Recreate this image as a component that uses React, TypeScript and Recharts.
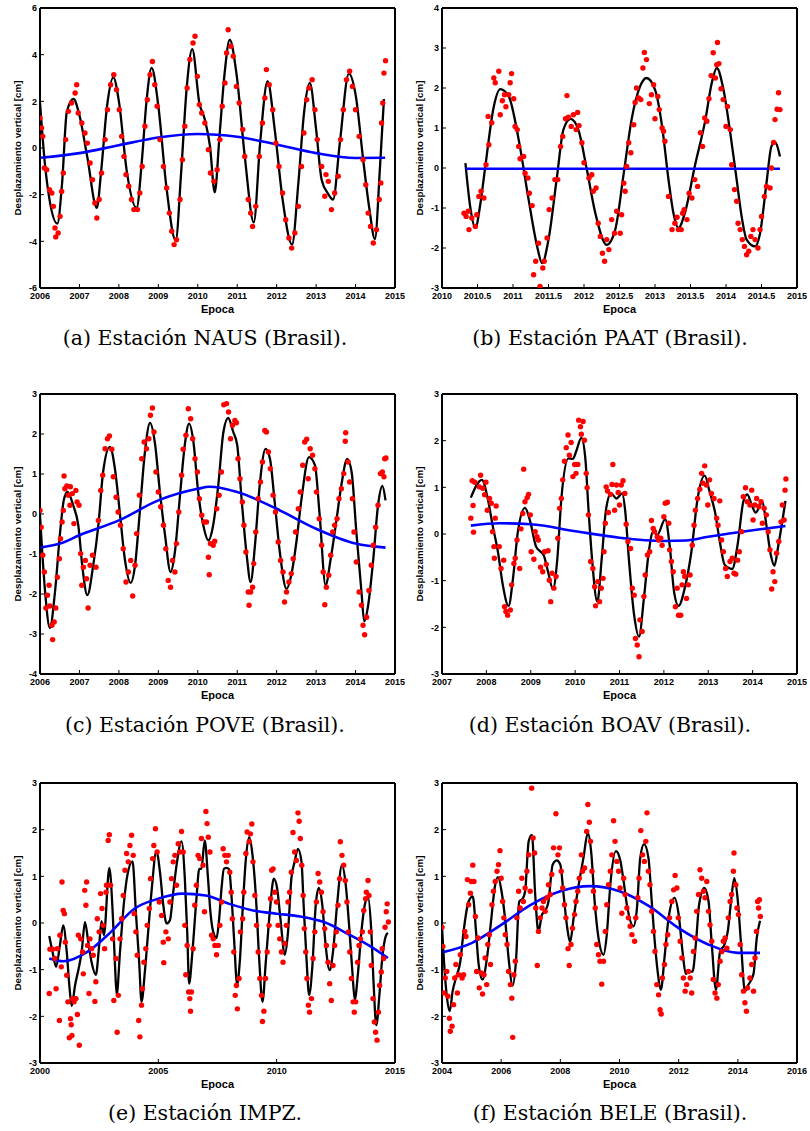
import React from "react";
import { ComposedChart, XAxis, YAxis, Scatter, Line } from "recharts";

type Pt = [number, number];

// ---- (a) NAUS ----
const nausTicksX = [2006, 2007, 2008, 2009, 2010, 2011, 2012, 2013, 2014, 2015];
const nausTicksY = [-6, -4, -2, 0, 2, 4, 6];
const nausObs: Pt[] = [
  [2006.0, 1.29], [2006.04, 0.86], [2006.07, 0.5], [2006.11, -0.86], [2006.17, -0.93], [2006.24, -1.79],
  [2006.3, -1.93], [2006.34, -2.5], [2006.38, -3.43], [2006.4, -3.81], [2006.46, -3.64], [2006.51, -2.93],
  [2006.55, -1.86], [2006.59, -1.07], [2006.65, 0.36], [2006.72, 1.57], [2006.8, 1.93], [2006.89, 2.36],
  [2006.93, 2.71], [2006.97, 1.5], [2007.06, 1.07], [2007.14, 0.64], [2007.2, 0.21], [2007.27, -0.64],
  [2007.33, -1.36], [2007.39, -2.36], [2007.44, -3.0], [2007.5, -2.21], [2007.56, -1.07], [2007.65, 0.36],
  [2007.71, 1.64], [2007.79, 2.71], [2007.87, 3.14], [2007.94, 2.5], [2008.01, 1.64], [2008.07, 0.5],
  [2008.13, -0.36], [2008.18, -1.14], [2008.25, -1.64], [2008.32, -2.21], [2008.38, -2.64], [2008.47, -2.64],
  [2008.53, -1.93], [2008.59, -0.79], [2008.66, 0.93], [2008.72, 2.07], [2008.79, 3.14], [2008.85, 3.71],
  [2008.91, 2.71], [2008.97, 1.79], [2009.04, 0.36], [2009.13, -0.79], [2009.21, -1.71], [2009.28, -2.79],
  [2009.34, -3.57], [2009.4, -4.14], [2009.46, -3.93], [2009.55, -2.21], [2009.61, -0.5], [2009.67, 0.93],
  [2009.73, 2.57], [2009.8, 3.79], [2009.88, 4.5], [2009.93, 4.79], [2009.99, 3.07], [2010.04, 1.86],
  [2010.1, 1.5], [2010.18, 1.07], [2010.27, -0.07], [2010.32, -1.07], [2010.41, -1.43], [2010.49, -0.93],
  [2010.56, 0.36], [2010.62, 1.79], [2010.69, 2.79], [2010.73, 4.07], [2010.77, 5.07], [2010.84, 4.36],
  [2010.9, 3.93], [2010.98, 2.64], [2011.05, 1.93], [2011.14, 0.79], [2011.19, -0.36], [2011.28, -2.21],
  [2011.34, -2.79], [2011.39, -3.36], [2011.47, -2.5], [2011.56, -0.36], [2011.64, 1.07], [2011.7, 2.14],
  [2011.74, 3.36], [2011.81, 2.71], [2011.9, 1.64], [2011.98, 0.21], [2012.06, -0.79], [2012.15, -1.93],
  [2012.23, -3.07], [2012.31, -3.86], [2012.38, -4.29], [2012.46, -3.64], [2012.55, -2.5], [2012.63, -0.79],
  [2012.69, 0.64], [2012.76, 2.07], [2012.82, 2.57], [2012.9, 2.93], [2012.97, 1.64], [2013.03, 0.36],
  [2013.14, -0.79], [2013.22, -2.07], [2013.25, -1.14], [2013.31, -1.43], [2013.39, -2.64], [2013.47, -1.93],
  [2013.56, -1.21], [2013.62, 0.36], [2013.69, 1.64], [2013.77, 2.93], [2013.85, 3.29], [2013.92, 2.64],
  [2014.0, 1.64], [2014.09, 0.5], [2014.19, -0.5], [2014.26, -1.57], [2014.32, -2.79], [2014.38, -3.36],
  [2014.45, -4.07], [2014.53, -3.5], [2014.6, -2.21], [2014.64, -1.5], [2014.66, 1.07], [2014.69, 1.93],
  [2014.72, 3.21], [2014.76, 3.74],
];
const nausFit: Pt[] = [
  [2006.0, 1.95], [2006.12, -0.6], [2006.25, -2.3], [2006.44, -3.24], [2006.56, -1.5], [2006.68, 1.55],
  [2006.85, 2.1], [2007.0, 1.4], [2007.2, -0.4], [2007.44, -2.57], [2007.55, -1.0], [2007.7, 1.8],
  [2007.86, 3.03], [2008.0, 2.0], [2008.2, -1.0], [2008.45, -2.57], [2008.58, -0.6], [2008.7, 2.0],
  [2008.83, 3.43], [2009.0, 1.8], [2009.2, -1.6], [2009.44, -3.96], [2009.58, -1.0], [2009.72, 2.6],
  [2009.86, 4.24], [2010.04, 1.93], [2010.18, 1.21], [2010.31, 0.07], [2010.43, -1.9], [2010.55, 0.5],
  [2010.68, 3.2], [2010.81, 4.64], [2010.98, 3.2], [2011.2, -0.5], [2011.42, -3.19], [2011.58, 0.2],
  [2011.77, 2.86], [2011.95, 0.8], [2012.15, -2.2], [2012.39, -4.14], [2012.55, -1.5], [2012.7, 1.6],
  [2012.84, 2.79], [2013.0, 0.8], [2013.14, -1.36], [2013.3, -1.95], [2013.43, -2.21], [2013.6, 0.2],
  [2013.83, 3.19], [2014.0, 2.3], [2014.2, -0.6], [2014.35, -2.6], [2014.49, -3.9], [2014.62, -0.8],
  [2014.72, 2.1],
];
const nausTrend: Pt[] = [
  [2006.0, -0.42], [2007.0, -0.22], [2008.0, 0.12], [2009.0, 0.45], [2010.0, 0.6], [2011.0, 0.48],
  [2012.0, 0.15], [2013.0, -0.22], [2014.0, -0.43], [2014.75, -0.42],
];

// ---- (b) PAAT ----
const paatTicksX = [2010, 2010.5, 2011, 2011.5, 2012, 2012.5, 2013, 2013.5, 2014, 2014.5, 2015];
const paatTicksY = [-3, -2, -1, 0, 1, 2, 3, 4];
const paatObs: Pt[] = [
  [2010.31, -1.13], [2010.34, -1.21], [2010.37, -1.08], [2010.38, -1.54], [2010.42, -1.25], [2010.47, -1.46],
  [2010.49, -1.17], [2010.52, -0.71], [2010.55, -0.58], [2010.59, -0.75], [2010.62, 0.08], [2010.66, 0.58],
  [2010.65, 1.29], [2010.7, 1.13], [2010.73, 2.25], [2010.75, 2.13], [2010.8, 2.42], [2010.82, 1.33],
  [2010.85, 1.68], [2010.88, 1.83], [2010.9, 1.53], [2010.94, 1.83], [2010.96, 2.13], [2010.98, 2.36],
  [2011.01, 1.73], [2011.03, 1.04], [2011.06, 0.96], [2011.08, 0.54], [2011.1, 0.23], [2011.15, 0.29],
  [2011.17, -0.13], [2011.21, -0.25], [2011.23, -0.63], [2011.27, -0.94], [2011.29, -2.67], [2011.32, -2.33],
  [2011.36, -1.88], [2011.38, -2.96], [2011.42, -2.5], [2011.44, -2.33], [2011.48, -1.75], [2011.51, -1.04],
  [2011.55, -0.75], [2011.59, -0.29], [2011.63, -0.29], [2011.67, 0.54], [2011.7, 0.79], [2011.74, 1.23],
  [2011.76, 1.81], [2011.78, 1.27], [2011.82, 1.04], [2011.85, 1.33], [2011.89, 0.96], [2011.91, 1.39],
  [2011.93, 1.06], [2011.97, 0.63], [2012.0, 0.13], [2012.07, -0.25], [2012.11, -0.17], [2012.13, -0.58],
  [2012.17, -0.5], [2012.2, -1.38], [2012.23, -1.71], [2012.26, -2.13], [2012.29, -2.33], [2012.32, -1.79],
  [2012.35, -2.04], [2012.39, -1.29], [2012.43, -1.63], [2012.46, -1.08], [2012.51, -1.63], [2012.53, -1.17],
  [2012.56, -0.38], [2012.58, -0.58], [2012.6, 0.04], [2012.63, 0.63], [2012.66, 0.38], [2012.7, 1.08],
  [2012.72, 1.64], [2012.74, 2.0], [2012.77, 1.75], [2012.8, 1.71], [2012.83, 2.5], [2012.85, 2.89],
  [2012.88, 2.71], [2012.92, 1.61], [2012.95, 1.83], [2012.98, 2.08], [2013.0, 1.23], [2013.04, 1.79],
  [2013.06, 1.46], [2013.1, 1.0], [2013.12, 0.92], [2013.14, 0.67], [2013.19, -0.71], [2013.24, -1.54],
  [2013.28, -1.38], [2013.31, -1.23], [2013.33, -1.54], [2013.37, -1.54], [2013.39, -1.13], [2013.41, -1.04],
  [2013.45, -1.29], [2013.48, -0.63], [2013.52, -0.75], [2013.56, -0.29], [2013.6, -0.46], [2013.64, 0.88],
  [2013.67, 0.54], [2013.7, 1.25], [2013.73, 1.17], [2013.76, 1.73], [2013.79, 2.31], [2013.82, 2.88],
  [2013.85, 2.25], [2013.87, 2.58], [2013.88, 3.14], [2013.9, 2.61], [2013.93, 1.98], [2013.96, 1.71],
  [2014.0, 1.04], [2014.02, 1.54], [2014.06, 0.96], [2014.08, 0.08], [2014.12, -0.54], [2014.15, -0.83],
  [2014.17, -1.38], [2014.2, -1.54], [2014.23, -1.79], [2014.26, -1.96], [2014.29, -2.17], [2014.32, -2.08],
  [2014.35, -1.71], [2014.38, -1.54], [2014.41, -1.79], [2014.45, -2.0], [2014.48, -1.54], [2014.5, -1.21],
  [2014.54, -0.71], [2014.57, -0.46], [2014.62, -0.5], [2014.64, 0.0], [2014.67, 0.64], [2014.69, 1.21],
  [2014.72, 1.47], [2014.74, 1.88], [2014.76, 1.46],
];
const paatFit: Pt[] = [
  [2010.33, 0.12], [2010.4, -1.0], [2010.47, -1.5], [2010.54, -0.9], [2010.61, 0.04], [2010.73, 1.54],
  [2010.82, 1.97], [2010.94, 1.79], [2011.08, 0.71], [2011.22, -0.79], [2011.34, -1.96], [2011.41, -2.38],
  [2011.5, -1.79], [2011.62, -0.21], [2011.71, 0.96], [2011.81, 1.23], [2011.92, 0.96], [2012.04, -0.04],
  [2012.16, -1.13], [2012.32, -1.92], [2012.44, -1.54], [2012.56, -0.13], [2012.67, 1.21], [2012.79, 2.04],
  [2012.88, 2.25], [2013.0, 1.96], [2013.1, 1.04], [2013.19, -0.29], [2013.26, -1.13], [2013.33, -1.5],
  [2013.42, -1.13], [2013.56, 0.04], [2013.71, 1.21], [2013.8, 2.13], [2013.87, 2.5], [2013.96, 2.0],
  [2014.06, 0.88], [2014.15, -0.29], [2014.22, -1.21], [2014.29, -1.79], [2014.41, -1.96], [2014.48, -1.63],
  [2014.57, -0.38], [2014.64, 0.54], [2014.69, 0.64], [2014.76, 0.29],
];
const paatTrend: Pt[] = [
  [2010.33, -0.02], [2011.5, -0.02], [2012.5, -0.02], [2013.5, -0.02], [2014.76, -0.02],
];

// ---- (c) POVE ----
const poveTicksX = [2006, 2007, 2008, 2009, 2010, 2011, 2012, 2013, 2014, 2015];
const poveTicksY = [-4, -3, -2, -1, 0, 1, 2, 3];
const poveObs: Pt[] = [
  [2006.0, 0.09], [2006.03, -0.33], [2006.07, -1.03], [2006.11, -1.45], [2006.15, -2.35], [2006.19, -2.03],
  [2006.23, -1.78], [2006.25, -2.3], [2006.3, -2.78], [2006.32, -3.14], [2006.36, -2.7], [2006.4, -2.35],
  [2006.44, -1.58], [2006.49, -1.12], [2006.52, -0.62], [2006.56, -0.2], [2006.59, 0.09], [2006.63, 0.63],
  [2006.61, 0.95], [2006.68, 0.7], [2006.72, 0.47], [2006.76, 0.22], [2006.77, 0.68], [2006.82, 0.51],
  [2006.86, -0.24], [2006.91, 0.59], [2006.94, 0.3], [2006.99, 0.22], [2007.03, -0.99], [2007.06, -1.78],
  [2007.1, -1.33], [2007.15, -1.16], [2007.18, -1.62], [2007.22, -2.35], [2007.27, -1.28], [2007.33, -1.03],
  [2007.42, -1.33], [2007.48, -0.16], [2007.54, 0.59], [2007.59, 0.97], [2007.65, 1.63], [2007.71, 1.88],
  [2007.76, 1.95], [2007.82, 1.62], [2007.86, 0.93], [2007.93, 0.42], [2007.98, 0.05], [2008.04, -0.28],
  [2008.11, -0.87], [2008.18, -1.7], [2008.24, -1.45], [2008.3, -1.16], [2008.35, -2.05], [2008.41, -1.28],
  [2008.45, -0.49], [2008.52, 0.47], [2008.58, 1.38], [2008.64, 1.8], [2008.7, 1.63], [2008.76, 1.88],
  [2008.8, 2.47], [2008.85, 2.65], [2008.89, 2.05], [2008.94, 1.05], [2009.0, 0.55], [2009.06, 0.18],
  [2009.13, -0.28], [2009.19, -0.87], [2009.25, -1.66], [2009.31, -1.83], [2009.36, -1.16], [2009.42, -1.45],
  [2009.46, -0.74], [2009.52, 0.05], [2009.59, 0.97], [2009.63, 1.62], [2009.7, 1.97], [2009.76, 2.63],
  [2009.82, 2.38], [2009.87, 1.88], [2009.93, 1.38], [2009.99, 1.05], [2010.04, 0.38], [2010.1, -0.03],
  [2010.16, -0.2], [2010.22, -0.2], [2010.27, -1.08], [2010.29, -1.52], [2010.32, -0.74], [2010.39, -0.78],
  [2010.43, -0.68], [2010.48, 0.13], [2010.54, 0.47], [2010.6, 1.05], [2010.66, 2.73], [2010.73, 2.76],
  [2010.78, 2.55], [2010.83, 1.88], [2010.88, 2.22], [2010.94, 2.34], [2010.98, 2.28], [2011.02, 1.38],
  [2011.07, 0.88], [2011.13, 0.3], [2011.17, -0.28], [2011.22, -0.95], [2011.28, -1.95], [2011.3, -2.28],
  [2011.34, -1.95], [2011.39, -1.83], [2011.42, -1.24], [2011.47, -0.45], [2011.53, 0.38], [2011.59, 0.8],
  [2011.64, 1.3], [2011.7, 2.09], [2011.74, 2.05], [2011.79, 1.55], [2011.84, 1.13], [2011.91, 0.47],
  [2011.97, 0.05], [2012.04, -0.7], [2012.1, -1.16], [2012.16, -1.45], [2012.2, -2.2], [2012.25, -1.95],
  [2012.31, -1.7], [2012.37, -1.49], [2012.42, -1.12], [2012.48, -0.45], [2012.55, 0.13], [2012.6, 0.55],
  [2012.66, 1.22], [2012.71, 1.8], [2012.76, 1.87], [2012.8, 0.88], [2012.85, 1.63], [2012.91, 1.47],
  [2012.97, 1.13], [2013.01, 0.55], [2013.08, -0.12], [2013.14, -0.78], [2013.18, -1.45], [2013.22, -2.27],
  [2013.26, -1.83], [2013.32, -1.53], [2013.37, -1.03], [2013.42, -0.45], [2013.47, -0.28], [2013.53, -0.12],
  [2013.58, 0.38], [2013.64, 0.63], [2013.7, 1.01], [2013.75, 2.03], [2013.74, 1.82], [2013.81, 1.3],
  [2013.85, 0.8], [2013.92, 0.38], [2013.96, -0.45], [2014.02, -1.2], [2014.09, -1.95], [2014.15, -2.28],
  [2014.19, -2.78], [2014.23, -3.02], [2014.28, -2.58], [2014.34, -1.91], [2014.4, -1.28], [2014.45, -0.78],
  [2014.51, -0.33], [2014.57, 0.22], [2014.63, 1.01], [2014.68, 1.05], [2014.72, 0.93], [2014.74, 1.38],
  [2014.77, 1.4],
];
const poveFit: Pt[] = [
  [2006.0, -0.03], [2006.13, -1.95], [2006.25, -2.85], [2006.38, -1.95], [2006.51, -0.45], [2006.61, 0.38],
  [2006.7, 0.55], [2006.84, 0.22], [2006.97, -0.28], [2007.08, -1.37], [2007.2, -2.03], [2007.35, -1.28],
  [2007.48, -0.28], [2007.6, 1.05], [2007.77, 1.68], [2007.9, 1.13], [2008.03, -0.03], [2008.15, -1.12],
  [2008.3, -1.72], [2008.41, -1.28], [2008.53, 0.05], [2008.66, 1.55], [2008.79, 2.28], [2008.91, 1.8],
  [2009.04, 0.55], [2009.17, -0.53], [2009.31, -1.45], [2009.42, -0.95], [2009.55, 0.47], [2009.67, 1.72],
  [2009.78, 2.26], [2009.89, 1.8], [2010.01, 0.55], [2010.14, -0.28], [2010.27, -0.66], [2010.39, -0.28],
  [2010.52, 0.72], [2010.65, 2.05], [2010.77, 2.4], [2010.9, 2.05], [2011.0, 1.72], [2011.11, 0.38],
  [2011.24, -1.03], [2011.34, -1.7], [2011.45, -0.78], [2011.57, 0.72], [2011.72, 1.63], [2011.83, 1.38],
  [2011.95, 0.3], [2012.08, -0.95], [2012.25, -1.87], [2012.37, -1.53], [2012.5, -0.7], [2012.63, 0.38],
  [2012.82, 1.42], [2012.97, 1.22], [2013.09, -0.03], [2013.24, -1.78], [2013.37, -1.12], [2013.52, -0.12],
  [2013.64, 0.72], [2013.79, 1.38], [2013.9, 1.05], [2014.02, -0.45], [2014.15, -1.95], [2014.22, -2.68],
  [2014.32, -2.28], [2014.45, -1.12], [2014.57, 0.22], [2014.68, 0.7], [2014.76, 0.34],
];
const poveTrend: Pt[] = [
  [2006.0, -0.84], [2006.51, -0.74], [2007.0, -0.53], [2008.0, -0.16], [2009.0, 0.34], [2010.0, 0.63],
  [2010.3, 0.68], [2011.0, 0.55], [2012.0, 0.13], [2013.0, -0.37], [2014.0, -0.74], [2014.76, -0.84],
];

// ---- (d) BOAV ----
const boavTicksX = [2007, 2008, 2009, 2010, 2011, 2012, 2013, 2014, 2015];
const boavTicksY = [-3, -2, -1, 0, 1, 2, 3];
const boavObs: Pt[] = [
  [2007.65, 0.34], [2007.68, 1.14], [2007.7, 0.61], [2007.71, 0.04], [2007.74, 1.11], [2007.84, 1.01],
  [2007.87, 1.26], [2007.92, 0.98], [2007.96, 0.84], [2007.99, 1.11], [2008.02, 0.51], [2008.07, 0.76],
  [2008.11, 0.66], [2008.14, 0.05], [2008.17, -0.27], [2008.2, 0.34], [2008.22, 0.6], [2008.18, -0.52],
  [2008.29, -0.27], [2008.33, -0.74], [2008.39, -0.56], [2008.41, -1.56], [2008.44, -1.66], [2008.48, -1.74],
  [2008.54, -1.63], [2008.57, -1.09], [2008.62, -0.63], [2008.65, -0.52], [2008.69, -0.13], [2008.75, -0.74],
  [2008.78, 0.11], [2008.82, 0.44], [2008.84, 1.39], [2008.87, 0.69], [2008.92, 0.78], [2008.95, 0.85],
  [2008.99, 0.41], [2009.01, -0.38], [2009.07, -0.54], [2009.1, 0.05], [2009.14, -0.06], [2009.17, -0.13],
  [2009.22, -0.71], [2009.27, -0.81], [2009.31, -0.38], [2009.35, -0.65], [2009.39, -0.36], [2009.42, -0.99],
  [2009.45, -1.45], [2009.48, -0.84], [2009.52, -1.16], [2009.57, -0.91], [2009.61, -0.09], [2009.65, 0.55],
  [2009.69, 0.76], [2009.72, 1.16], [2009.76, 1.56], [2009.8, 1.85], [2009.84, 2.12], [2009.87, 1.69],
  [2009.91, 1.96], [2009.95, 1.23], [2009.99, 1.49], [2010.02, 1.3], [2010.06, 1.49], [2010.08, 2.44],
  [2010.12, 2.3], [2010.14, 2.14], [2010.18, 2.41], [2010.21, 2.01], [2010.25, 1.3], [2010.27, 0.99],
  [2010.3, 0.41], [2010.35, -0.59], [2010.4, -0.74], [2010.44, -1.13], [2010.46, -1.54], [2010.51, -1.02],
  [2010.55, -1.45], [2010.59, -1.16], [2010.63, -0.95], [2010.65, -0.38], [2010.68, 0.23], [2010.7, 1.01],
  [2010.73, 0.92], [2010.75, 0.46], [2010.8, 0.85], [2010.83, 1.06], [2010.85, 1.49], [2010.89, 0.51],
  [2010.93, 1.05], [2010.97, 0.89], [2011.0, 0.62], [2011.04, 1.05], [2011.08, 1.14], [2011.12, 0.87],
  [2011.15, 0.21], [2011.19, -0.16], [2011.25, -0.31], [2011.29, -1.16], [2011.33, -1.31], [2011.36, -2.24],
  [2011.4, -2.38], [2011.44, -2.63], [2011.46, -1.84], [2011.51, -2.09], [2011.55, -1.34], [2011.58, -0.88],
  [2011.63, -0.45], [2011.68, -0.38], [2011.72, 0.29], [2011.76, 0.12], [2011.79, 0.05], [2011.85, -0.06],
  [2011.88, -0.13], [2011.93, -0.09], [2011.96, -0.24], [2012.0, 0.37], [2012.03, 0.66], [2012.08, 0.68],
  [2012.11, 0.23], [2012.13, -0.34], [2012.17, -0.59], [2012.21, -0.81], [2012.26, -1.56], [2012.3, -1.16],
  [2012.33, -1.74], [2012.38, -1.74], [2012.41, -1.09], [2012.44, -0.81], [2012.47, -0.91], [2012.51, -1.38],
  [2012.55, -1.09], [2012.59, -0.88], [2012.64, -0.24], [2012.68, 0.19], [2012.71, 0.51], [2012.76, 0.76],
  [2012.81, 0.96], [2012.85, 1.3], [2012.88, 1.09], [2012.92, 1.46], [2012.96, 1.05], [2012.99, 0.62],
  [2013.03, 1.16], [2013.07, 0.87], [2013.13, 0.76], [2013.19, 0.34], [2013.22, 0.19], [2013.26, 0.71],
  [2013.3, -0.13], [2013.34, -0.38], [2013.39, -0.74], [2013.43, -0.91], [2013.49, -0.59], [2013.54, -0.52],
  [2013.58, -0.84], [2013.62, -0.86], [2013.66, -0.56], [2013.7, -0.38], [2013.75, 0.05], [2013.79, 0.8],
  [2013.84, 0.99], [2013.88, 0.69], [2013.94, 0.62], [2013.98, 0.94], [2014.01, 0.3], [2014.05, 0.62],
  [2014.09, 0.76], [2014.14, 0.59], [2014.19, 0.69], [2014.22, 0.23], [2014.26, 0.55], [2014.31, 0.41],
  [2014.35, 0.05], [2014.39, -0.34], [2014.43, -1.18], [2014.46, -0.81], [2014.5, -1.02], [2014.54, -0.41],
  [2014.59, -0.16], [2014.64, 0.26], [2014.67, 0.62], [2014.71, 0.3], [2014.73, 0.94], [2014.75, 1.18],
];
const boavFit: Pt[] = [
  [2007.65, 0.78], [2007.9, 1.16], [2008.03, 0.76], [2008.14, 0.19], [2008.26, -0.38], [2008.37, -1.09],
  [2008.5, -1.54], [2008.6, -0.95], [2008.71, 0.05], [2008.87, 0.56], [2008.99, 0.26], [2009.12, -0.27],
  [2009.2, -0.36], [2009.29, -0.45], [2009.39, -0.81], [2009.5, -1.18], [2009.6, -0.52], [2009.69, 0.76],
  [2009.85, 1.62], [2009.95, 1.61], [2010.02, 1.76], [2010.14, 2.06], [2010.23, 1.62], [2010.3, 0.55],
  [2010.38, -0.52], [2010.5, -1.45], [2010.6, -0.52], [2010.7, 0.55], [2010.81, 0.87], [2010.93, 0.76],
  [2011.06, 0.87], [2011.13, 0.48], [2011.21, -0.52], [2011.33, -1.74], [2011.44, -2.2], [2011.55, -1.38],
  [2011.66, -0.38], [2011.76, 0.05], [2011.85, -0.02], [2012.03, 0.32], [2012.13, -0.24], [2012.23, -1.24],
  [2012.33, -1.54], [2012.47, -1.16], [2012.62, -0.38], [2012.76, 0.76], [2012.92, 1.25], [2013.03, 0.91],
  [2013.15, 0.48], [2013.26, -0.16], [2013.37, -0.66], [2013.54, -0.75], [2013.66, -0.24], [2013.79, 0.69],
  [2013.88, 0.85], [2013.98, 0.62], [2014.07, 0.46], [2014.22, 0.69], [2014.31, 0.19], [2014.41, -0.45],
  [2014.49, -0.68], [2014.58, -0.24], [2014.74, 0.71],
];
const boavTrend: Pt[] = [
  [2007.65, 0.18], [2008.3, 0.23], [2009.0, 0.21], [2010.0, 0.06], [2011.0, -0.08], [2012.0, -0.15],
  [2012.5, -0.14], [2013.0, -0.06], [2014.0, 0.08], [2014.74, 0.17],
];

// ---- (e) IMPZ ----
const impzTicksX = [2000, 2005, 2010, 2015];
const impzTicksY = [-3, -2, -1, 0, 1, 2, 3];
const impzObs: Pt[] = [
  [2000.39, -1.51], [2000.42, -0.56], [2000.53, -0.56], [2000.63, -0.76], [2000.68, -1.41], [2000.73, -0.55],
  [2000.82, -2.09], [2000.84, -0.26], [2000.9, -0.94], [2000.93, 0.88], [2000.98, 0.27], [2001.03, 0.2],
  [2001.07, -0.41], [2001.13, -1.12], [2001.18, -1.69], [2001.24, -2.46], [2001.29, -2.05], [2001.32, -2.18],
  [2001.35, -2.41], [2001.38, -1.62], [2001.44, -1.69], [2001.52, -1.62], [2001.58, -1.96], [2001.66, -2.62],
  [2001.62, -0.26], [2001.72, -0.34], [2001.8, -0.62], [2001.83, -1.09], [2001.89, 0.7], [2001.94, 0.38],
  [2001.97, 0.88], [2002.01, -0.48], [2002.07, -1.51], [2002.11, -0.34], [2002.18, -0.55], [2002.25, -0.69],
  [2002.32, -1.68], [2002.36, -1.26], [2002.42, 0.09], [2002.5, -0.19], [2002.56, 0.63], [2002.62, 0.31],
  [2002.67, -0.05], [2002.73, -0.55], [2002.79, 0.66], [2002.81, 0.81], [2002.88, 1.77], [2002.93, 1.89],
  [2002.98, 0.81], [2003.07, -0.34], [2003.12, -1.66], [2003.21, -0.76], [2003.26, -2.34], [2003.31, -1.55],
  [2003.38, -0.34], [2003.45, 0.09], [2003.52, 0.59], [2003.59, 1.13], [2003.66, 1.49], [2003.73, 1.31],
  [2003.8, 1.66], [2003.87, 1.88], [2003.94, 1.45], [2003.98, 0.2], [2004.05, -0.19], [2004.11, -0.69],
  [2004.17, -2.09], [2004.22, -2.44], [2004.29, -1.76], [2004.33, -1.41], [2004.39, -0.84], [2004.47, -0.55],
  [2004.53, -0.05], [2004.62, 0.31], [2004.67, 0.95], [2004.76, 1.38], [2004.81, 1.66], [2004.88, 2.02],
  [2004.95, 1.52], [2005.04, 0.45], [2005.14, 0.16], [2005.21, -0.41], [2005.23, -0.85], [2005.32, -0.19],
  [2005.42, -0.34], [2005.49, 0.45], [2005.56, 0.95], [2005.63, 1.31], [2005.7, 1.45], [2005.77, 0.81],
  [2005.84, 1.7], [2005.91, 1.52], [2005.98, 1.96], [2006.05, 1.52], [2006.12, -0.05], [2006.16, -1.11],
  [2006.22, -0.48], [2006.28, -1.48], [2006.33, -1.62], [2006.36, -1.89], [2006.4, -1.48], [2006.47, -0.55],
  [2006.54, 0.38], [2006.61, 0.81], [2006.68, 1.45], [2006.75, 1.38], [2006.82, 1.81], [2006.89, 1.24],
  [2006.95, 0.24], [2007.01, 2.39], [2007.06, 2.13], [2007.11, 1.84], [2007.18, 1.52], [2007.25, -0.26],
  [2007.32, -0.34], [2007.39, -0.48], [2007.46, -0.68], [2007.53, -0.48], [2007.6, -0.05], [2007.67, 0.45],
  [2007.74, 1.59], [2007.81, 1.45], [2007.88, 1.31], [2007.95, 1.45], [2008.02, 1.09], [2008.08, 0.66],
  [2008.13, 0.09], [2008.19, -0.62], [2008.25, -1.55], [2008.3, -1.34], [2008.34, -1.84], [2008.41, -1.19],
  [2008.47, -0.19], [2008.56, 0.09], [2008.61, 0.66], [2008.7, 1.49], [2008.75, 1.95], [2008.84, 1.74],
  [2008.89, 1.91], [2008.95, 2.12], [2009.0, 1.31], [2009.08, 0.59], [2009.15, -0.05], [2009.22, -0.62],
  [2009.29, -1.19], [2009.36, -1.55], [2009.4, -2.11], [2009.46, -1.89], [2009.53, -1.19], [2009.6, -0.62],
  [2009.68, -0.05], [2009.74, 0.52], [2009.79, 1.13], [2009.85, 1.16], [2009.92, 0.66], [2009.99, 0.45],
  [2010.06, -0.05], [2010.13, -0.34], [2010.2, -0.62], [2010.27, -0.84], [2010.34, -0.44], [2010.41, -0.05],
  [2010.48, 0.45], [2010.55, 0.66], [2010.62, 1.09], [2010.69, 1.94], [2010.76, 1.52], [2010.83, 1.34],
  [2010.9, 2.36], [2010.95, 2.18], [2011.0, 1.81], [2011.06, 1.24], [2011.12, 0.59], [2011.17, -0.12],
  [2011.23, -0.62], [2011.28, -1.19], [2011.34, -1.76], [2011.39, -1.91], [2011.47, -1.62], [2011.54, -0.76],
  [2011.61, -0.19], [2011.68, 0.45], [2011.75, 1.06], [2011.82, 0.88], [2011.89, 0.66], [2011.96, 0.24],
  [2012.03, -0.12], [2012.1, -0.48], [2012.17, -0.84], [2012.24, -1.3], [2012.31, -1.66], [2012.38, -0.91],
  [2012.45, -0.48], [2012.52, -0.19], [2012.59, 0.38], [2012.66, 0.95], [2012.69, 1.74], [2012.76, 1.45],
  [2012.83, 1.24], [2012.9, 0.91], [2012.97, 0.45], [2013.03, -0.19], [2013.09, -0.62], [2013.16, -1.19],
  [2013.23, -1.69], [2013.28, -1.91], [2013.34, -1.69], [2013.42, -0.84], [2013.48, -0.48], [2013.54, -0.34],
  [2013.62, -0.19], [2013.68, 0.27], [2013.76, 0.52], [2013.79, 0.66], [2013.86, 0.91], [2013.9, 0.59],
  [2013.96, -0.19], [2014.0, -0.91], [2014.07, -1.62], [2014.13, -2.12], [2014.18, -2.34], [2014.24, -2.51],
  [2014.3, -1.91], [2014.35, -1.34], [2014.42, -1.05], [2014.46, -0.55], [2014.52, -0.76], [2014.58, -0.09],
  [2014.63, 0.24], [2014.67, 0.41], [2014.72, 0.02],
];
const impzFit: Pt[] = [
  [2000.39, -0.28], [2000.53, -0.62], [2000.68, -0.94], [2000.84, -0.48], [2000.98, -0.05], [2001.13, -0.62],
  [2001.24, -1.34], [2001.34, -1.78], [2001.48, -1.34], [2001.66, -0.91], [2001.76, -0.62], [2001.9, 0.02],
  [2002.04, -0.41], [2002.18, -0.84], [2002.36, -1.11], [2002.5, -0.48], [2002.6, 0.04], [2002.7, -0.26],
  [2002.93, 1.18], [2003.07, 0.24], [2003.17, -0.91], [2003.24, -1.54], [2003.38, -0.62], [2003.55, 0.45],
  [2003.69, 1.02], [2003.91, 1.32], [2004.05, 0.24], [2004.19, -0.84], [2004.29, -1.69], [2004.43, -1.05],
  [2004.57, -0.19], [2004.71, 0.66], [2004.92, 1.54], [2005.07, 1.09], [2005.21, 0.38], [2005.35, -0.01],
  [2005.49, 0.06], [2005.63, 0.66], [2005.77, 1.24], [2005.98, 1.75], [2006.12, 0.95], [2006.22, -0.19],
  [2006.3, -1.3], [2006.44, -0.62], [2006.61, 0.52], [2006.73, 1.16], [2006.82, 1.16], [2006.96, 1.77],
  [2007.1, 0.95], [2007.2, 0.24], [2007.32, -0.19], [2007.46, -0.32], [2007.57, 0.09], [2007.67, 0.74],
  [2007.77, 1.16], [2007.88, 1.18], [2007.99, 1.15], [2008.09, 0.59], [2008.2, -0.34], [2008.33, -1.32],
  [2008.44, -0.84], [2008.58, 0.45], [2008.7, 1.38], [2008.84, 1.84], [2008.98, 1.45], [2009.12, 0.59],
  [2009.26, -0.76], [2009.4, -1.69], [2009.54, -0.84], [2009.71, 0.24], [2009.88, 0.95], [2010.02, 0.74],
  [2010.16, 0.09], [2010.34, -0.68], [2010.48, -0.19], [2010.62, 0.95], [2010.76, 1.31], [2010.9, 1.59],
  [2011.05, 1.31], [2011.14, 0.38], [2011.26, -0.76], [2011.37, -1.54], [2011.51, -0.91], [2011.65, 0.38],
  [2011.78, 0.75], [2011.93, 0.38], [2012.07, -0.48], [2012.24, -1.01], [2012.38, -0.62], [2012.55, 0.38],
  [2012.76, 1.24], [2012.92, 0.81], [2013.06, -0.05], [2013.2, -1.05], [2013.3, -1.64], [2013.44, -1.05],
  [2013.58, -0.19], [2013.72, 0.38], [2013.86, 0.56], [2014.0, -0.19], [2014.1, -1.34], [2014.21, -2.19],
  [2014.35, -1.48], [2014.46, -0.76], [2014.61, -0.28], [2014.7, -0.21],
];
const impzTrend: Pt[] = [
  [2000.39, -0.76], [2001.0, -0.82], [2002.0, -0.62], [2003.0, -0.19], [2004.0, 0.31], [2005.0, 0.52],
  [2006.0, 0.63], [2007.0, 0.59], [2008.0, 0.41], [2009.0, 0.27], [2010.0, 0.2], [2011.0, 0.14],
  [2012.0, 0.02], [2013.0, -0.23], [2014.0, -0.51], [2014.7, -0.75],
];

// ---- (f) BELE ----
const beleTicksX = [2004, 2006, 2008, 2010, 2012, 2014, 2016];
const beleTicksY = [-3, -2, -1, 0, 1, 2, 3];
const beleObs: Pt[] = [
  [2004.0, -0.09], [2004.03, -0.5], [2004.07, -1.5], [2004.11, -1.18], [2004.16, -1.04], [2004.2, -1.57],
  [2004.25, -2.04], [2004.28, -2.32], [2004.34, -2.21], [2004.39, -1.75], [2004.43, -1.18], [2004.47, -0.89],
  [2004.52, -1.5], [2004.56, -1.11], [2004.62, -0.68], [2004.68, -1.18], [2004.73, -1.11], [2004.77, -0.18],
  [2004.81, -0.29], [2004.86, 0.93], [2004.9, 0.39], [2004.96, 0.64], [2004.99, 0.89], [2005.04, 1.24],
  [2005.08, 0.89], [2005.13, 0.14], [2005.17, -1.04], [2005.22, -0.32], [2005.26, -1.39], [2005.33, -1.07],
  [2005.37, -1.52], [2005.42, -1.11], [2005.46, -0.75], [2005.51, -1.32], [2005.55, -0.46], [2005.6, -0.25],
  [2005.64, -0.89], [2005.69, 0.39], [2005.74, 0.68], [2005.8, 0.89], [2005.86, 1.11], [2005.91, 1.25],
  [2005.96, 1.55], [2006.0, 0.96], [2006.05, 0.46], [2006.09, 0.11], [2006.14, -0.25], [2006.2, -0.46],
  [2006.25, -1.04], [2006.31, -1.32], [2006.36, -1.61], [2006.39, -2.45], [2006.43, -1.11], [2006.48, -0.82],
  [2006.53, 0.11], [2006.59, 0.68], [2006.64, 0.32], [2006.7, 0.96], [2006.75, 0.46], [2006.81, 0.75],
  [2006.87, 1.11], [2006.93, 1.46], [2006.98, 0.68], [2007.03, 2.89], [2007.08, 1.82], [2007.13, 1.5],
  [2007.17, 0.32], [2007.22, -0.91], [2007.26, -0.18], [2007.32, 0.11], [2007.38, 0.32], [2007.43, 0.46],
  [2007.49, 0.25], [2007.55, 0.54], [2007.6, 0.82], [2007.66, 0.61], [2007.71, 1.04], [2007.77, 1.61],
  [2007.85, 2.34], [2007.92, 1.46], [2007.97, 1.61], [2008.03, 1.11], [2008.08, 0.75], [2008.14, 0.39],
  [2008.19, 0.11], [2008.26, -0.55], [2008.3, -0.91], [2008.36, -0.46], [2008.41, -0.11], [2008.48, 0.18],
  [2008.53, 0.46], [2008.59, 0.68], [2008.64, 0.96], [2008.71, 1.46], [2008.75, 1.11], [2008.82, 1.18],
  [2008.89, 1.96], [2008.93, 2.54], [2008.98, 2.16], [2009.02, 1.75], [2009.07, 1.11], [2009.12, 0.68],
  [2009.18, 0.32], [2009.23, -0.46], [2009.29, -0.68], [2009.34, -0.82], [2009.4, -1.31], [2009.46, -0.82],
  [2009.52, -0.18], [2009.57, 0.39], [2009.63, 0.82], [2009.69, 1.11], [2009.74, 1.46], [2009.8, 2.19],
  [2009.85, 1.75], [2009.91, 1.32], [2009.97, 1.11], [2010.02, 0.75], [2010.08, 0.21], [2010.14, 0.96],
  [2010.19, 0.61], [2010.25, 0.32], [2010.3, 0.11], [2010.36, -0.07], [2010.42, -0.25], [2010.51, -0.39],
  [2010.55, 0.11], [2010.62, 0.54], [2010.66, 0.96], [2010.72, 1.98], [2010.78, 1.46], [2010.84, 1.32],
  [2010.89, 1.75], [2010.93, 2.36], [2010.98, 1.11], [2011.03, 0.82], [2011.09, 0.25], [2011.15, -0.18],
  [2011.2, -0.61], [2011.26, -1.32], [2011.32, -1.54], [2011.37, -1.86], [2011.41, -1.95], [2011.45, -1.18],
  [2011.52, -0.89], [2011.57, -0.46], [2011.63, -0.25], [2011.69, 0.11], [2011.77, 0.46], [2011.83, 0.71],
  [2011.88, 1.02], [2011.94, 0.75], [2011.99, 0.11], [2012.05, -0.39], [2012.11, -0.75], [2012.16, -1.18],
  [2012.22, -1.46], [2012.27, -1.32], [2012.33, -1.04], [2012.39, -1.18], [2012.44, -1.5], [2012.5, -0.61],
  [2012.56, -0.32], [2012.61, 0.25], [2012.67, 0.61], [2012.72, 1.14], [2012.78, 0.96], [2012.84, 0.68],
  [2012.89, 0.54], [2012.95, 0.89], [2013.01, 0.25], [2013.06, -0.04], [2013.12, -0.39], [2013.17, -1.21],
  [2013.23, -1.5], [2013.29, -1.61], [2013.34, -1.32], [2013.4, -0.82], [2013.46, -0.61], [2013.51, -0.39],
  [2013.57, -0.32], [2013.63, -0.54], [2013.68, 0.11], [2013.74, 0.46], [2013.79, 0.61], [2013.85, 1.11],
  [2013.87, 1.5], [2013.93, 0.82], [2013.97, 0.32], [2014.02, 0.18], [2014.08, -0.46], [2014.13, -1.11],
  [2014.19, -1.46], [2014.24, -1.71], [2014.29, -1.89], [2014.33, -1.39], [2014.41, -1.18], [2014.47, -0.89],
  [2014.53, -1.46], [2014.58, -0.75], [2014.63, -0.18], [2014.67, 0.46], [2014.7, 0.32], [2014.73, 0.5],
  [2014.76, 0.14],
];
const beleFit: Pt[] = [
  [2004.0, -0.07], [2004.09, -1.04], [2004.17, -1.61], [2004.26, -1.89], [2004.36, -1.46], [2004.47, -1.18],
  [2004.62, -0.82], [2004.73, -0.18], [2004.9, 0.46], [2005.04, 0.57], [2005.15, -0.18], [2005.24, -0.89],
  [2005.37, -1.21], [2005.52, -0.75], [2005.67, 0.11], [2005.78, 0.75], [2005.89, 0.98], [2006.03, 0.61],
  [2006.14, 0.04], [2006.25, -0.75], [2006.39, -1.34], [2006.5, -0.82], [2006.61, 0.46], [2006.73, 0.52],
  [2006.81, 0.68], [2006.93, 1.75], [2007.04, 1.89], [2007.15, 0.61], [2007.26, -0.19], [2007.38, 0.18],
  [2007.49, 0.26], [2007.6, 0.46], [2007.74, 1.25], [2007.88, 1.34], [2008.0, 1.25], [2008.11, 0.61],
  [2008.22, -0.04], [2008.33, -0.41], [2008.45, 0.11], [2008.62, 0.82], [2008.78, 1.39], [2008.93, 1.93],
  [2009.04, 1.54], [2009.16, 0.46], [2009.29, -0.32], [2009.46, -0.68], [2009.57, -0.25], [2009.69, 0.82],
  [2009.88, 1.54], [2010.02, 1.36], [2010.14, 0.89], [2010.25, 0.39], [2010.47, -0.07], [2010.59, 0.32],
  [2010.7, 1.39], [2010.83, 1.69], [2010.98, 1.39], [2011.09, 0.46], [2011.2, -0.46], [2011.29, -1.04],
  [2011.4, -1.43], [2011.52, -0.75], [2011.66, 0.11], [2011.86, 0.54], [2012.0, 0.18], [2012.13, -0.61],
  [2012.24, -1.09], [2012.35, -1.04], [2012.47, -1.04], [2012.58, -0.46], [2012.69, 0.39], [2012.87, 0.75],
  [2013.01, 0.46], [2013.12, -0.46], [2013.26, -1.43], [2013.4, -0.61], [2013.55, -0.46], [2013.66, -0.18],
  [2013.77, 0.46], [2013.88, 0.96], [2013.99, 0.54], [2014.11, -0.46], [2014.24, -1.46], [2014.36, -1.32],
  [2014.53, -1.09], [2014.64, -0.32], [2014.75, 0.05],
];
const beleTrend: Pt[] = [
  [2004.0, -0.63], [2005.0, -0.43], [2006.0, -0.04], [2007.0, 0.39], [2008.0, 0.68], [2009.0, 0.79],
  [2010.0, 0.68], [2011.0, 0.36], [2012.0, -0.11], [2013.0, -0.46], [2014.0, -0.64], [2014.75, -0.64],
];

const toRows = (pts: Pt[]) => pts.map(([x, y]) => ({ x, y }));

const AXIS_FONT = "'Liberation Sans', Arial, sans-serif";
const tickStyle = { fill: "#000", fontSize: 9, fontWeight: "bold", fontFamily: AXIS_FONT };

const RedDot = (p: any) =>
  p.cx == null || p.cy == null ? <g /> : <circle cx={p.cx} cy={p.cy} r={2.7} fill="#ff0000" />;

type PanelProps = {
  left: number;
  top: number;
  obs: Pt[];
  fit: Pt[];
  trend: Pt[];
  xTicks: number[];
  yTicks: number[];
};

function Panel({ left, top, obs, fit, trend, xTicks, yTicks }: PanelProps) {
  const xDomain = [xTicks[0], xTicks[xTicks.length - 1]];
  const yDomain = [yTicks[0], yTicks[yTicks.length - 1]];
  const frame = { stroke: "#000", strokeWidth: 2 };
  const tickLine = { stroke: "#000", strokeWidth: 1 };
  return (
    <div style={{ position: "absolute", left, top }}>
      <ComposedChart width={405} height={318} margin={{ top: 7, right: 9, bottom: 0, left: 0 }}>
        <XAxis
          dataKey="x"
          type="number"
          domain={xDomain}
          ticks={xTicks}
          interval={0}
          allowDataOverflow
          height={30}
          tickSize={-4}
          tickMargin={9}
          tick={tickStyle}
          axisLine={frame}
          tickLine={tickLine}
          label={{
            value: "Epoca",
            position: "insideBottom",
            offset: 5,
            style: { fill: "#000", fontSize: 11, fontWeight: "bold", fontFamily: AXIS_FONT },
          }}
        />
        <XAxis
          xAxisId="top"
          orientation="top"
          dataKey="x"
          type="number"
          domain={xDomain}
          ticks={xTicks}
          interval={0}
          allowDataOverflow
          height={1}
          tickSize={-4}
          tick={false}
          axisLine={frame}
          tickLine={tickLine}
        />
        <YAxis
          dataKey="y"
          type="number"
          domain={yDomain}
          ticks={yTicks}
          interval={0}
          allowDataOverflow
          width={40}
          tickSize={-4}
          tickMargin={7}
          tick={tickStyle}
          axisLine={frame}
          tickLine={tickLine}
        />
        <YAxis
          yAxisId="right"
          orientation="right"
          dataKey="y"
          type="number"
          domain={yDomain}
          ticks={yTicks}
          interval={0}
          allowDataOverflow
          width={1}
          tickSize={-4}
          tick={false}
          axisLine={frame}
          tickLine={tickLine}
        />
        <Scatter data={toRows(obs)} dataKey="y" shape={RedDot} isAnimationActive={false} />
        <Line
          data={toRows(fit)}
          dataKey="y"
          type="monotone"
          stroke="#000"
          strokeWidth={2.3}
          dot={false}
          activeDot={false}
          isAnimationActive={false}
        />
        <Line
          data={toRows(trend)}
          dataKey="y"
          type="monotone"
          stroke="#0000ff"
          strokeWidth={2.6}
          dot={false}
          activeDot={false}
          isAnimationActive={false}
        />
      </ComposedChart>
    </div>
  );
}

const captions = [
  { x: 205, y: 345, text: "(a) Estación NAUS (Brasil)." },
  { x: 610, y: 345, text: "(b) Estación PAAT (Brasil)." },
  { x: 205, y: 732, text: "(c) Estación POVE (Brasil)." },
  { x: 610, y: 732, text: "(d) Estación BOAV (Brasil)." },
  { x: 205, y: 1120, text: "(e) Estación IMPZ." },
  { x: 610, y: 1120, text: "(f) Estación BELE (Brasil)." },
];

export default function App() {
  const rows = [0, 386, 775];
  const cols = [0, 402];
  return (
    <div style={{ position: "absolute", left: 0, top: 0, width: 810, height: 1131, background: "#fff" }}>
      <Panel left={cols[0]} top={rows[0]} obs={nausObs} fit={nausFit} trend={nausTrend} xTicks={nausTicksX} yTicks={nausTicksY} />
      <Panel left={cols[1]} top={rows[0]} obs={paatObs} fit={paatFit} trend={paatTrend} xTicks={paatTicksX} yTicks={paatTicksY} />
      <Panel left={cols[0]} top={rows[1]} obs={poveObs} fit={poveFit} trend={poveTrend} xTicks={poveTicksX} yTicks={poveTicksY} />
      <Panel left={cols[1]} top={rows[1]} obs={boavObs} fit={boavFit} trend={boavTrend} xTicks={boavTicksX} yTicks={boavTicksY} />
      <Panel left={cols[0]} top={rows[2]} obs={impzObs} fit={impzFit} trend={impzTrend} xTicks={impzTicksX} yTicks={impzTicksY} />
      <Panel left={cols[1]} top={rows[2]} obs={beleObs} fit={beleFit} trend={beleTrend} xTicks={beleTicksX} yTicks={beleTicksY} />
      <svg
        width={810}
        height={1131}
        style={{ position: "absolute", left: 0, top: 0, pointerEvents: "none" }}
      >
        {rows.map((r) =>
          cols.map((c) => (
            <text
              key={`${r}-${c}`}
              transform={`translate(${c + 17}, ${r + 148}) rotate(-90)`}
              textAnchor="middle"
              dominantBaseline="central"
              fontFamily={AXIS_FONT}
              fontWeight="bold"
              fontSize={9.8}
              fill="#000"
            >
              Desplazamiento vertical [cm]
            </text>
          ))
        )}
        {captions.map((c) => (
          <text
            key={c.text}
            x={c.x}
            y={c.y}
            textAnchor="middle"
            fontFamily="'DejaVu Serif', serif"
            fontSize={20.5}
            fill="#000"
          >
            {c.text}
          </text>
        ))}
      </svg>
    </div>
  );
}
